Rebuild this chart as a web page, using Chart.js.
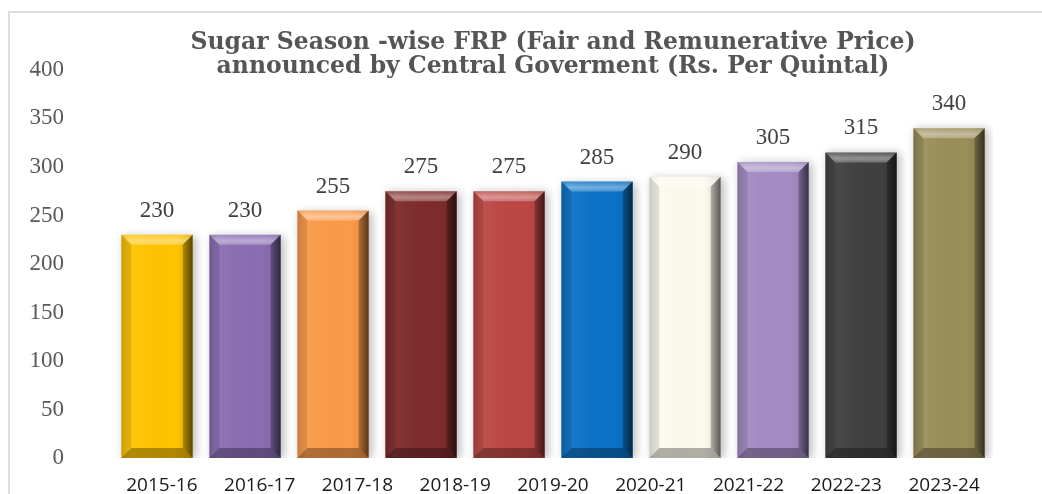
<!DOCTYPE html>
<html><head><meta charset="utf-8">
<script src="https://cdn.jsdelivr.net/npm/chart.js@4.4.1/dist/chart.umd.min.js"></script>
<style>
html,body{margin:0;padding:0;background:#fff;overflow:hidden;}
#wrap{position:relative;width:1042px;height:494px;}
#frame{position:absolute;left:8px;top:11px;width:1100px;height:600px;border-left:2px solid #dedede;border-top:2px solid #dedede;box-sizing:border-box;}
canvas{position:absolute;left:0;top:0;}
</style></head><body>
<div id="wrap"><div id="frame"></div><canvas id="c" width="1042" height="494"></canvas></div>
<script>
// ---- data ----
const barCategories = ['2015-16','2016-17','2017-18','2018-19','2019-20','2020-21','2021-22','2022-23','2023-24','2024-25'];
const frpValues = [230, 230, 255, 275, 275, 285, 290, 305, 315, 340];
const axisLabels = ['2015-16','2016-17','2017-18','2018-19','2019-20','2020-21','2021-22','2022-23','2023-24'];
const yTicks = [0, 50, 100, 150, 200, 250, 300, 350, 400];
const titleLines = ['Sugar Season -wise FRP (Fair and Remunerative Price)', 'announced by Central Goverment (Rs. Per Quintal)'];
// ---- style ----
const barColors = ['#FFC400','#8A6DB3','#FB9A48','#7E2B2B','#BD4744','#0A72C8','#FDFBEE','#A38BC4','#404040','#9A8E59'];

const shadowPlugin = {
  id: 'shadow',
  beforeDatasetsDraw(chart) {
    const ctx = chart.ctx;
    ctx.save();
    ctx.shadowColor = 'rgba(0,0,0,0.28)';
    ctx.shadowBlur = 9;
    ctx.shadowOffsetX = 3;
    ctx.shadowOffsetY = 1;
  },
  afterDatasetsDraw(chart) {
    const ctx = chart.ctx;
    ctx.restore();
    const meta = chart.getDatasetMeta(0);
    const b = 10;
    meta.data.forEach((bar, i) => {
      const p = bar.getProps(['x','y','base','width'], true);
      const L = p.x - p.width/2, R = p.x + p.width/2, T = p.y, B = p.base;
      const poly = (pts, fill) => {
        ctx.beginPath();
        ctx.moveTo(pts[0][0], pts[0][1]);
        for (let k = 1; k < pts.length; k++) ctx.lineTo(pts[k][0], pts[k][1]);
        ctx.closePath();
        ctx.fillStyle = fill;
        ctx.fill();
      };
      const g = ctx.createLinearGradient(L, 0, R, 0);
      g.addColorStop(0, 'rgba(0,0,0,0.10)');
      g.addColorStop(0.15, 'rgba(255,255,255,0.05)');
      g.addColorStop(0.75, 'rgba(0,0,0,0.0)');
      g.addColorStop(1, 'rgba(0,0,0,0.12)');
      ctx.fillStyle = g;
      ctx.fillRect(L, T, R - L, B - T);
      const gt = ctx.createLinearGradient(0, T, 0, T + b);
      gt.addColorStop(0, 'rgba(255,255,255,0.15)');
      gt.addColorStop(0.6, 'rgba(255,255,255,0.42)');
      gt.addColorStop(1, 'rgba(255,255,255,0.25)');
      poly([[L,T],[R,T],[R-b,T+b],[L+b,T+b]], gt);
      poly([[L,T],[L+b,T+b],[L+b,B-b],[L,B]], 'rgba(0,0,0,0.10)');
      const gr = ctx.createLinearGradient(R - b, 0, R, 0);
      gr.addColorStop(0, 'rgba(0,0,0,0.25)');
      gr.addColorStop(1, 'rgba(0,0,0,0.60)');
      poly([[R,T],[R,B],[R-b,B-b],[R-b,T+b]], gr);
      poly([[L,B],[R,B],[R-b,B-b],[L+b,B-b]], 'rgba(0,0,0,0.30)');
      ctx.save();
      ctx.font = '23px "Liberation Serif", serif';
      ctx.fillStyle = '#404040';
      ctx.textAlign = 'center';
      ctx.textBaseline = 'alphabetic';
      ctx.fillText(String(frpValues[i]), p.x, T - 18);
      ctx.restore();
    });
  }
};

new Chart(document.getElementById('c'), {
  type: 'bar',
  data: {
    labels: barCategories,
    datasets: [{
      data: frpValues,
      backgroundColor: barColors,
      borderWidth: 0,
      barPercentage: 0.9,
      categoryPercentage: 0.9
    }]
  },
  options: {
    responsive: false,
    devicePixelRatio: 1,
    animation: false,
    layout: { padding: { left: 0, right: 49, top: 0, bottom: 0 } },
    plugins: {
      legend: { display: false },
      tooltip: { enabled: false },
      title: {
        display: true,
        fullSize: false,
        text: titleLines,
        color: '#555555',
        font: { family: '"DejaVu Serif", serif', size: 23.5, weight: 'bold', lineHeight: 1.02 },
        padding: { top: 31, bottom: -9 }
      }
    },
    scales: {
      x: { display: false },
      x2: {
        type: 'category',
        labels: axisLabels,
        position: 'bottom',
        offset: true,
        grid: { display: false, drawTicks: false },
        border: { display: false },
        ticks: { color: '#1a1a1a', font: { family: '"Open Sans", sans-serif', size: 19 }, padding: 16, maxRotation: 0, autoSkip: false },
        afterFit(s) { s.height = 36; }
      },
      y: {
        min: 0, max: 400,
        afterBuildTicks(s) { s.ticks = yTicks.map(v => ({ value: v })); },
        grid: { display: false, drawTicks: false },
        border: { display: false },
        ticks: { color: '#595959', font: { family: '"Liberation Serif", serif', size: 23 }, padding: 49 },
        afterFit(s) { s.width = 113; s.paddingTop = 14; s.paddingBottom = 14; }
      }
    }
  },
  plugins: [shadowPlugin]
});
</script>
</body></html>
